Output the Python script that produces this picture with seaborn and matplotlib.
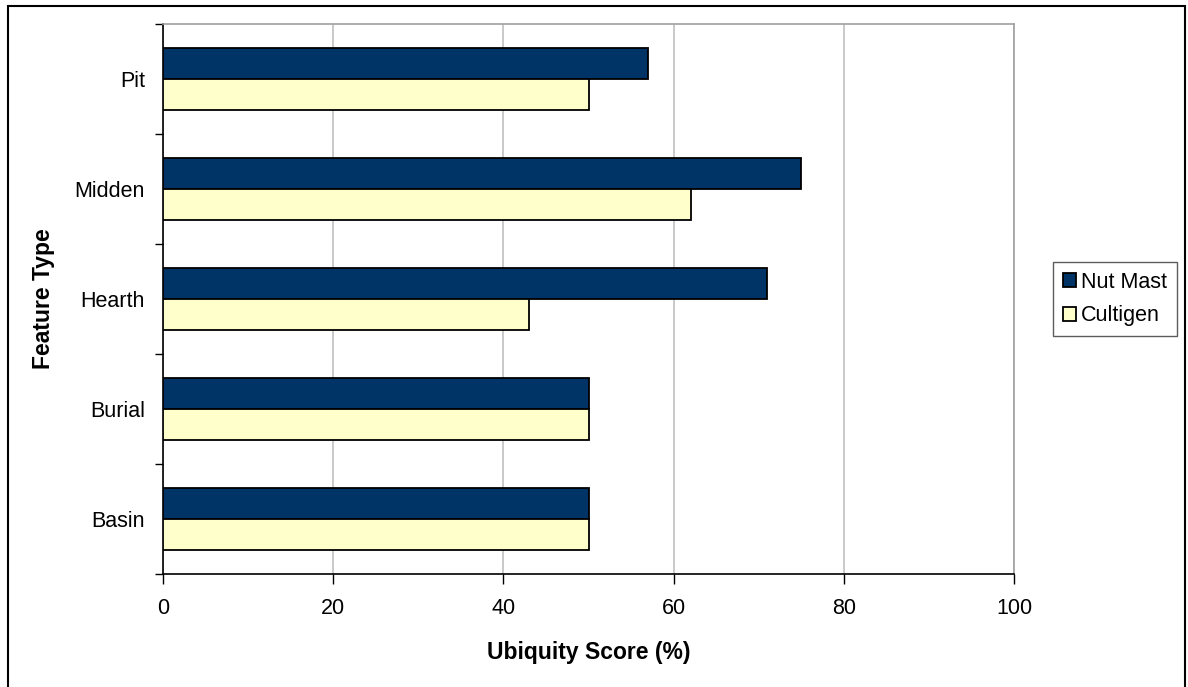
import matplotlib
matplotlib.use("Agg")
import matplotlib.pyplot as plt
import seaborn as sns
import pandas as pd
from matplotlib.patches import Rectangle

# Ubiquity of plant remains by feature type
features = ["Pit", "Midden", "Hearth", "Burial", "Basin"]
nut_mast = [57, 75, 71, 50, 50]
cultigen = [50, 62, 43, 50, 50]
series_names = ["Nut Mast", "Cultigen"]
x_ticks = [0, 20, 40, 60, 80, 100]

df = pd.DataFrame({
    "Feature Type": features * 2,
    "Ubiquity": nut_mast + cultigen,
    "Group": [series_names[0]] * len(features) + [series_names[1]] * len(features),
})

sns.set_style("white")
plt.rcParams["font.family"] = ["Liberation Sans", "DejaVu Sans"]
plt.rcParams.update({
    "text.color": "black",
    "axes.labelcolor": "black",
    "xtick.color": "black",
    "ytick.color": "black",
    "xtick.labelcolor": "black",
    "ytick.labelcolor": "black",
})

TICK_FS = 15.5
LABEL_FS = 16.5

fig = plt.figure(figsize=(11.88, 6.87), dpi=100)
ax = fig.add_axes([163 / 1188, 1 - 574 / 687, (1014 - 163) / 1188, (574 - 24) / 687])

palette = {"Nut Mast": "#003366", "Cultigen": "#FFFFCC"}
sns.barplot(data=df, x="Ubiquity", y="Feature Type", hue="Group", order=features,
            hue_order=series_names, palette=palette, orient="h", width=0.565,
            gap=0, edgecolor="black", linewidth=1.3, saturation=1, ax=ax,
            legend=True, zorder=3)

ax.set_xlim(0, 100)
ax.set_ylim(len(features) - 0.5, -0.5)
ax.set_xticks(x_ticks)
ax.set_xticklabels([str(t) for t in x_ticks], fontsize=TICK_FS, color="black")
ax.xaxis.grid(True, color="#c0c0c0", linewidth=1.2, zorder=0)
ax.yaxis.grid(False)
ax.set_axisbelow(True)

# Category labels centred, tick marks on category boundaries
ax.set_yticks([i - 0.5 for i in range(len(features) + 1)])
ax.set_yticklabels([""] * (len(features) + 1))
ax.set_yticks(range(len(features)), minor=True)
ax.set_yticklabels(features, minor=True, fontsize=TICK_FS, color="black")
ax.tick_params(axis="y", which="major", length=6, width=1, color="black", direction="out", left=True)
ax.tick_params(axis="y", which="minor", length=0, pad=13)
ax.tick_params(axis="x", which="major", length=7, width=1, color="black", direction="out", bottom=True, pad=10)

for side in ["left", "bottom"]:
    ax.spines[side].set_color("black")
    ax.spines[side].set_linewidth(1.2)
for side in ["top", "right"]:
    ax.spines[side].set_color("#a0a0a0")
    ax.spines[side].set_linewidth(1.2)

ax.set_xlabel("Ubiquity Score (%)", fontsize=LABEL_FS, fontweight="bold", labelpad=16, color="black")
ax.set_ylabel("Feature Type", fontsize=LABEL_FS, fontweight="bold", labelpad=14, color="black")

handles, labels = ax.get_legend_handles_labels()
ax.get_legend().remove()
leg = fig.legend(handles, labels, loc="center left",
                 bbox_to_anchor=(1053 / 1188, 1 - 299 / 687),
                 fontsize=TICK_FS, frameon=True, fancybox=False, edgecolor="#333333",
                 handlelength=0.6, handleheight=0.6, handletextpad=0.25,
                 labelspacing=0.6, borderpad=0.45, borderaxespad=0)
leg.get_frame().set_linewidth(1.0)
for t in leg.get_texts():
    t.set_color("black")

# Chart-area border
fig.patches.append(Rectangle((8 / 1188, -0.05), (1185 - 8) / 1188, 1.05 - 6 / 687,
                             transform=fig.transFigure, fill=False,
                             edgecolor="black", linewidth=1.5))

fig.savefig("out.png", dpi=100)
